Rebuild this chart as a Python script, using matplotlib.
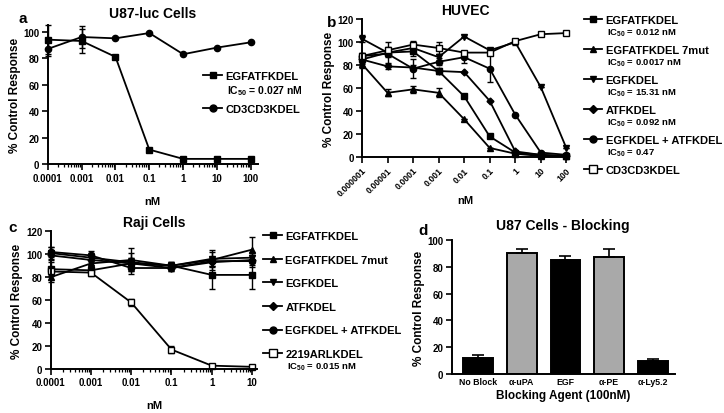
import numpy as np
import matplotlib
matplotlib.use("Agg")
import matplotlib.pyplot as plt
from matplotlib.lines import Line2D

plt.rcParams["font.family"] = ["Liberation Sans", "DejaVu Sans"]
plt.rcParams["font.weight"] = "bold"
plt.rcParams["axes.labelweight"] = "bold"
plt.rcParams["axes.titleweight"] = "bold"
plt.rcParams["mathtext.default"] = "regular"

# ── panel a : U87-luc cells ──────────────────────────────────
a_dose = [1e-4, 1e-3, 1e-2, 1e-1, 1, 10, 100]
a_ticklabels = ["0.0001", "0.001", "0.01", "0.1", "1", "10", "100"]
a_egfatf = [94, 93, 81, 11, 4, 4, 4]
a_egfatf_err = [11, 9, 0, 0, 0, 0, 0]
a_cd3 = [87, 96, 95, 99, 83, 88, 92]
a_cd3_err = [5, 8, 0, 0, 0, 0, 0]

# ── panel b : HUVEC ──────────────────────────────────────────
b_dose = [1e-6, 1e-5, 1e-4, 1e-3, 1e-2, 1e-1, 1, 10, 100]
b_ticklabels = ["0.000001", "0.00001", "0.0001", "0.001", "0.01", "0.1", "1", "10", "100"]
b_egfatf = [85, 91, 92, 75, 53, 18, 4, 2, 1]
b_egfatf_err = [4, 9, 4, 3, 0, 0, 0, 0, 0]
b_7mut = [81, 56, 59, 56, 33, 8, 3, 1, 1]
b_7mut_err = [3, 3, 3, 4, 0, 0, 0, 0, 0]
b_egfk = [103, 91, 95, 87, 105, 93, 100, 61, 8]
b_egfk_err = [3, 3, 4, 3, 0, 0, 2, 0, 0]
b_atfk = [85, 79, 78, 75, 74, 49, 5, 2, 1]
b_atfk_err = [3, 2, 2, 2, 0, 0, 0, 0, 0]
b_combo = [88, 90, 77, 83, 87, 77, 37, 4, 2]
b_combo_err = [3, 3, 8, 3, 5, 12, 0, 0, 0]
b_cd3 = [88, 93, 98, 95, 91, 91, 101, 107, 108]
b_cd3_err = [3, 3, 3, 5, 0, 0, 2, 0, 0]

# ── panel c : Raji cells ─────────────────────────────────────
c_dose = [1e-4, 1e-3, 1e-2, 1e-1, 1, 10]
c_ticklabels = ["0.0001", "0.001", "0.01", "0.1", "1", "10"]
c_egfatf = [87, 86, 92, 90, 82, 82]
c_egfatf_err = [6, 3, 5, 3, 12, 12]
c_7mut = [80, 92, 95, 90, 95, 104]
c_7mut_err = [4, 4, 10, 3, 9, 11]
c_egfk = [101, 97, 93, 90, 96, 97]
c_egfk_err = [5, 4, 8, 3, 6, 5]
c_atfk = [99, 95, 92, 88, 93, 95]
c_atfk_err = [4, 4, 5, 3, 4, 4]
c_combo = [102, 99, 88, 88, 94, 94]
c_combo_err = [4, 4, 5, 3, 4, 5]
c_2219 = [85, 84, 58, 17, 3, 2]
c_2219_err = [3, 3, 3, 3, 0, 0]

# ── panel d : blocking ───────────────────────────────────────
d_agents = ["No Block", "α-uPA", "EGF", "α-PE", "α-Ly5.2"]
d_values = [12, 90, 85, 87, 10]
d_errors = [2, 3, 3, 6, 1]
d_colors = ["black", "#a9a9a9", "black", "#a9a9a9", "black"]

fig = plt.figure(figsize=(7.24, 4.14), dpi=100)

TICK_FS = 7
LEG_FS = 8
LW = 1.3


def style_ax(ax):
    for s in ["top", "right"]:
        ax.spines[s].set_visible(False)
    for s in ["left", "bottom"]:
        ax.spines[s].set_linewidth(1.4)
    ax.tick_params(axis="both", which="major", length=4, width=1.2,
                   labelsize=TICK_FS, pad=2)
    ax.tick_params(axis="both", which="minor", length=2.5, width=0.9)
    for lab in ax.get_xticklabels() + ax.get_yticklabels():
        lab.set_fontweight("bold")


def series(ax, x, y, err, marker, label, mfc="black", ms=4.5):
    ax.errorbar(x, y, yerr=err, color="black", marker=marker, ms=ms,
                mfc=mfc, mec="black", mew=1.0, lw=LW, capsize=2.5,
                elinewidth=1.0, capthick=1.0, clip_on=False)
    return Line2D([], [], color="black", marker=marker, ms=ms + 0.5, mfc=mfc,
                  mec="black", mew=1.0, lw=LW, label=label)


def add_ic50(fig, leg, notes, dy, fs):
    fig.canvas.draw()
    inv = fig.transFigure.inverted()
    for txt, note in zip(leg.get_texts(), notes):
        if not note:
            continue
        bb = txt.get_window_extent()
        x0, y0 = inv.transform((bb.x0, bb.y0))
        fig.text(x0 + 0.002, y0 - dy, note, fontsize=fs, fontweight="bold",
                 va="top", ha="left")


# panel a
axa = fig.add_axes([0.066, 0.601, 0.29, 0.336])
axa.set_xscale("log")
ha = [series(axa, a_dose, a_egfatf, a_egfatf_err, "s", "EGFATFKDEL"),
      series(axa, a_dose, a_cd3, a_cd3_err, "o", "CD3CD3KDEL")]
axa.set_xlim(1e-4, 160)
axa.set_ylim(0, 105)
axa.set_yticks([0, 20, 40, 60, 80, 100])
axa.set_xticks(a_dose)
axa.set_xticklabels(a_ticklabels)
axa.set_xlabel("nM", fontsize=8, labelpad=10)
axa.set_ylabel("% Control Response", fontsize=8.5, labelpad=2)
axa.set_title("U87-luc Cells", fontsize=10, pad=6)
style_ax(axa)
lega = axa.legend(handles=ha, loc="upper left", bbox_to_anchor=(0.74, 0.67),
                  frameon=False, fontsize=LEG_FS, handlelength=1.7,
                  handletextpad=0.3, labelspacing=2.1, borderaxespad=0,
                  borderpad=0)

# panel b
axb = fig.add_axes([0.5, 0.618, 0.285, 0.333])
axb.set_xscale("log")
hb = [series(axb, b_dose, b_egfatf, b_egfatf_err, "s", "EGFATFKDEL"),
      series(axb, b_dose, b_7mut, b_7mut_err, "^", "EGFATFKDEL 7mut"),
      series(axb, b_dose, b_egfk, b_egfk_err, "v", "EGFKDEL"),
      series(axb, b_dose, b_atfk, b_atfk_err, "D", "ATFKDEL", ms=3.5),
      series(axb, b_dose, b_combo, b_combo_err, "o", "EGFKDEL + ATFKDEL"),
      series(axb, b_dose, b_cd3, b_cd3_err, "s", "CD3CD3KDEL", mfc="white", ms=5)]
axb.set_xlim(1e-6, 120)
axb.set_ylim(0, 120)
axb.set_yticks([0, 20, 40, 60, 80, 100, 120])
axb.set_xticks(b_dose)
axb.set_xticklabels(b_ticklabels, rotation=45, ha="right", rotation_mode="anchor")
axb.set_xlabel("nM", fontsize=8, labelpad=-2)
axb.set_ylabel("% Control Response", fontsize=8.5, labelpad=2)
axb.set_title("HUVEC", fontsize=10, pad=4)
style_ax(axb)
axb.tick_params(axis="x", labelsize=6.3)
legb = axb.legend(handles=hb, loc="upper left", bbox_to_anchor=(1.078, 1.03),
                  frameon=False, fontsize=LEG_FS, handlelength=1.6,
                  handletextpad=0.3, labelspacing=1.79, borderaxespad=0,
                  borderpad=0)

# panel c
axc = fig.add_axes([0.070, 0.106, 0.285, 0.333])
axc.set_xscale("log")
hc = [series(axc, c_dose, c_egfatf, c_egfatf_err, "s", "EGFATFKDEL"),
      series(axc, c_dose, c_7mut, c_7mut_err, "^", "EGFATFKDEL 7mut"),
      series(axc, c_dose, c_egfk, c_egfk_err, "v", "EGFKDEL"),
      series(axc, c_dose, c_atfk, c_atfk_err, "D", "ATFKDEL", ms=3.5),
      series(axc, c_dose, c_combo, c_combo_err, "o", "EGFKDEL + ATFKDEL"),
      series(axc, c_dose, c_2219, c_2219_err, "s", "2219ARLKDEL", mfc="white", ms=5)]
axc.set_xlim(1e-4, 13.3)
axc.set_ylim(0, 120)
axc.set_yticks([0, 20, 40, 60, 80, 100, 120])
axc.set_xticks(c_dose)
axc.set_xticklabels(c_ticklabels)
axc.set_xlabel("nM", fontsize=8, labelpad=9)
axc.set_ylabel("% Control Response", fontsize=8.5, labelpad=2)
axc.set_title("Raji Cells", fontsize=10, pad=4)
style_ax(axc)
legc = axc.legend(handles=hc, loc="upper left", bbox_to_anchor=(1.03, 1.0),
                  frameon=False, fontsize=LEG_FS, handlelength=1.7,
                  handletextpad=0.3, labelspacing=1.22, borderaxespad=0,
                  borderpad=0)

# panel d
axd = fig.add_axes([0.624, 0.094, 0.308, 0.324])
x = np.arange(len(d_agents))
axd.bar(x, d_values, width=0.68, color=d_colors, edgecolor="black", linewidth=1.4,
        yerr=[[0] * len(d_errors), d_errors], capsize=4,
        error_kw=dict(elinewidth=1.2, capthick=1.2, ecolor="black"))
axd.set_xlim(-0.6, 4.5)
axd.set_ylim(0, 100)
axd.set_yticks([0, 20, 40, 60, 80, 100])
axd.set_xticks(x)
axd.set_xticklabels(d_agents)
axd.set_xlabel("Blocking Agent (100nM)", fontsize=8.5, labelpad=2)
axd.set_ylabel("% Control Response", fontsize=8.5, labelpad=2)
axd.set_title("U87 Cells - Blocking", fontsize=10, pad=8)
style_ax(axd)
axd.tick_params(axis="x", length=0, labelsize=6.3)

# panel letters
for lab, (px, py) in zip("abcd", [(0.025, 0.97), (0.452, 0.962), (0.012, 0.465), (0.578, 0.458)]):
    fig.text(px, py, lab, fontsize=11, fontweight="bold", ha="left", va="top")

add_ic50(fig, lega, ["IC$_{50}$ = 0.027 nM", ""], 0.006, 7.5)
add_ic50(fig, legb, ["IC$_{50}$ = 0.012 nM", "IC$_{50}$ = 0.0017 nM", "IC$_{50}$ = 15.31 nM",
                     "IC$_{50}$ = 0.092 nM", "IC$_{50}$ = 0.47", ""], 0.004, 6.8)
add_ic50(fig, legc, ["", "", "", "", "", "IC$_{50}$ = 0.015 nM"], 0.004, 6.8)

fig.savefig("out.png", dpi=100)
